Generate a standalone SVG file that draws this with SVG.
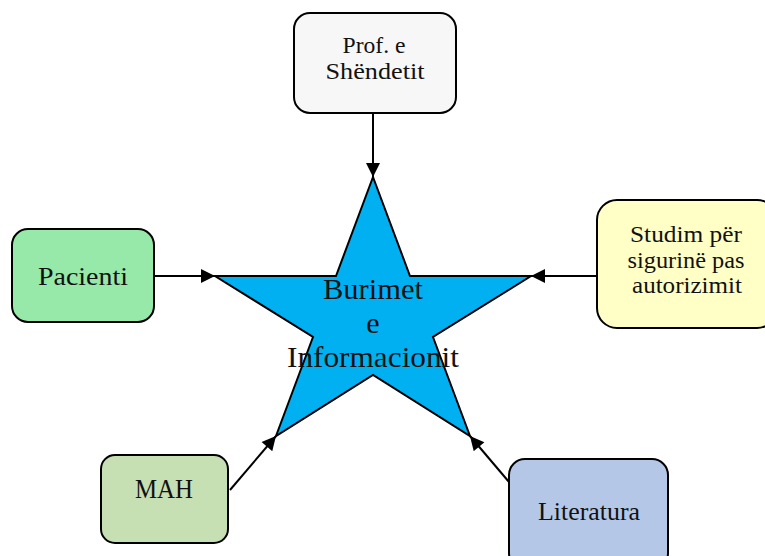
<svg xmlns="http://www.w3.org/2000/svg" width="765" height="556" viewBox="0 0 765 556">
<style>
.box{stroke:#000;stroke-width:2}
.t{font-family:"Liberation Serif","Times New Roman",serif;fill:#111;text-anchor:middle}
.c{stroke:#000;stroke-width:2;fill:none}
</style>
<defs>
<marker id="ah" viewBox="0 0 10 10" refX="10" refY="5" markerWidth="15" markerHeight="14" markerUnits="userSpaceOnUse" orient="auto">
<path d="M0,0 L10,5 L0,10 z" fill="#000"/>
</marker>
</defs>
<rect width="765" height="556" fill="#fff"/>
<g id="star">
<polygon points="373,177 410,276 531,276 433,337 470,436 373,375 276,436 313,337 215,276 336,276" fill="#00b0f0" stroke="#000" stroke-width="2" stroke-linejoin="miter"/>
<text class="t" font-size="30"><tspan x="373" y="299" textLength="100" lengthAdjust="spacingAndGlyphs">Burimet</tspan><tspan x="373" y="333">e</tspan><tspan x="373" y="367" textLength="172" lengthAdjust="spacingAndGlyphs">Informacionit</tspan></text>
</g>
<g id="connectors">
<line class="c" x1="373" y1="113" x2="373" y2="177" marker-end="url(#ah)"/>
<line class="c" x1="154" y1="276" x2="215" y2="276" marker-end="url(#ah)"/>
<line class="c" x1="597" y1="276" x2="531" y2="276" marker-end="url(#ah)"/>
<line class="c" x1="230" y1="490" x2="276" y2="436" marker-end="url(#ah)"/>
<line class="c" x1="509" y1="482" x2="470" y2="436" marker-end="url(#ah)"/>
</g>
<g id="prof">
<rect class="box" x="294" y="13" width="162" height="100" rx="16" fill="#f7f7f7"/>
<text class="t" font-size="24"><tspan x="374" y="53" textLength="63" lengthAdjust="spacingAndGlyphs">Prof. e</tspan><tspan x="375" y="79" textLength="99" lengthAdjust="spacingAndGlyphs">Shëndetit</tspan></text>
</g>
<g id="studim">
<rect class="box" x="597" y="200" width="180" height="128" rx="20" fill="#ffffc6"/>
<text class="t" font-size="23.5"><tspan x="686" y="242" textLength="112" lengthAdjust="spacingAndGlyphs">Studim për</tspan><tspan x="686" y="268" textLength="117" lengthAdjust="spacingAndGlyphs">sigurinë pas</tspan><tspan x="687" y="293" textLength="110" lengthAdjust="spacingAndGlyphs">autorizimit</tspan></text>
</g>
<g id="pacienti">
<rect class="box" x="12" y="229" width="142" height="93" rx="16" fill="#97e9a9"/>
<text class="t" font-size="26" x="83" y="285" textLength="90" lengthAdjust="spacingAndGlyphs">Pacienti</text>
</g>
<g id="mah">
<rect class="box" x="101" y="455" width="127" height="88" rx="14" fill="#c6e0b4"/>
<text class="t" font-size="28" x="164" y="498" textLength="58" lengthAdjust="spacingAndGlyphs">MAH</text>
</g>
<g id="literatura">
<rect class="box" x="509" y="459" width="159" height="110" rx="16" fill="#b4c7e7"/>
<text class="t" font-size="25" x="589" y="520" textLength="102" lengthAdjust="spacingAndGlyphs">Literatura</text>
</g>
</svg>
